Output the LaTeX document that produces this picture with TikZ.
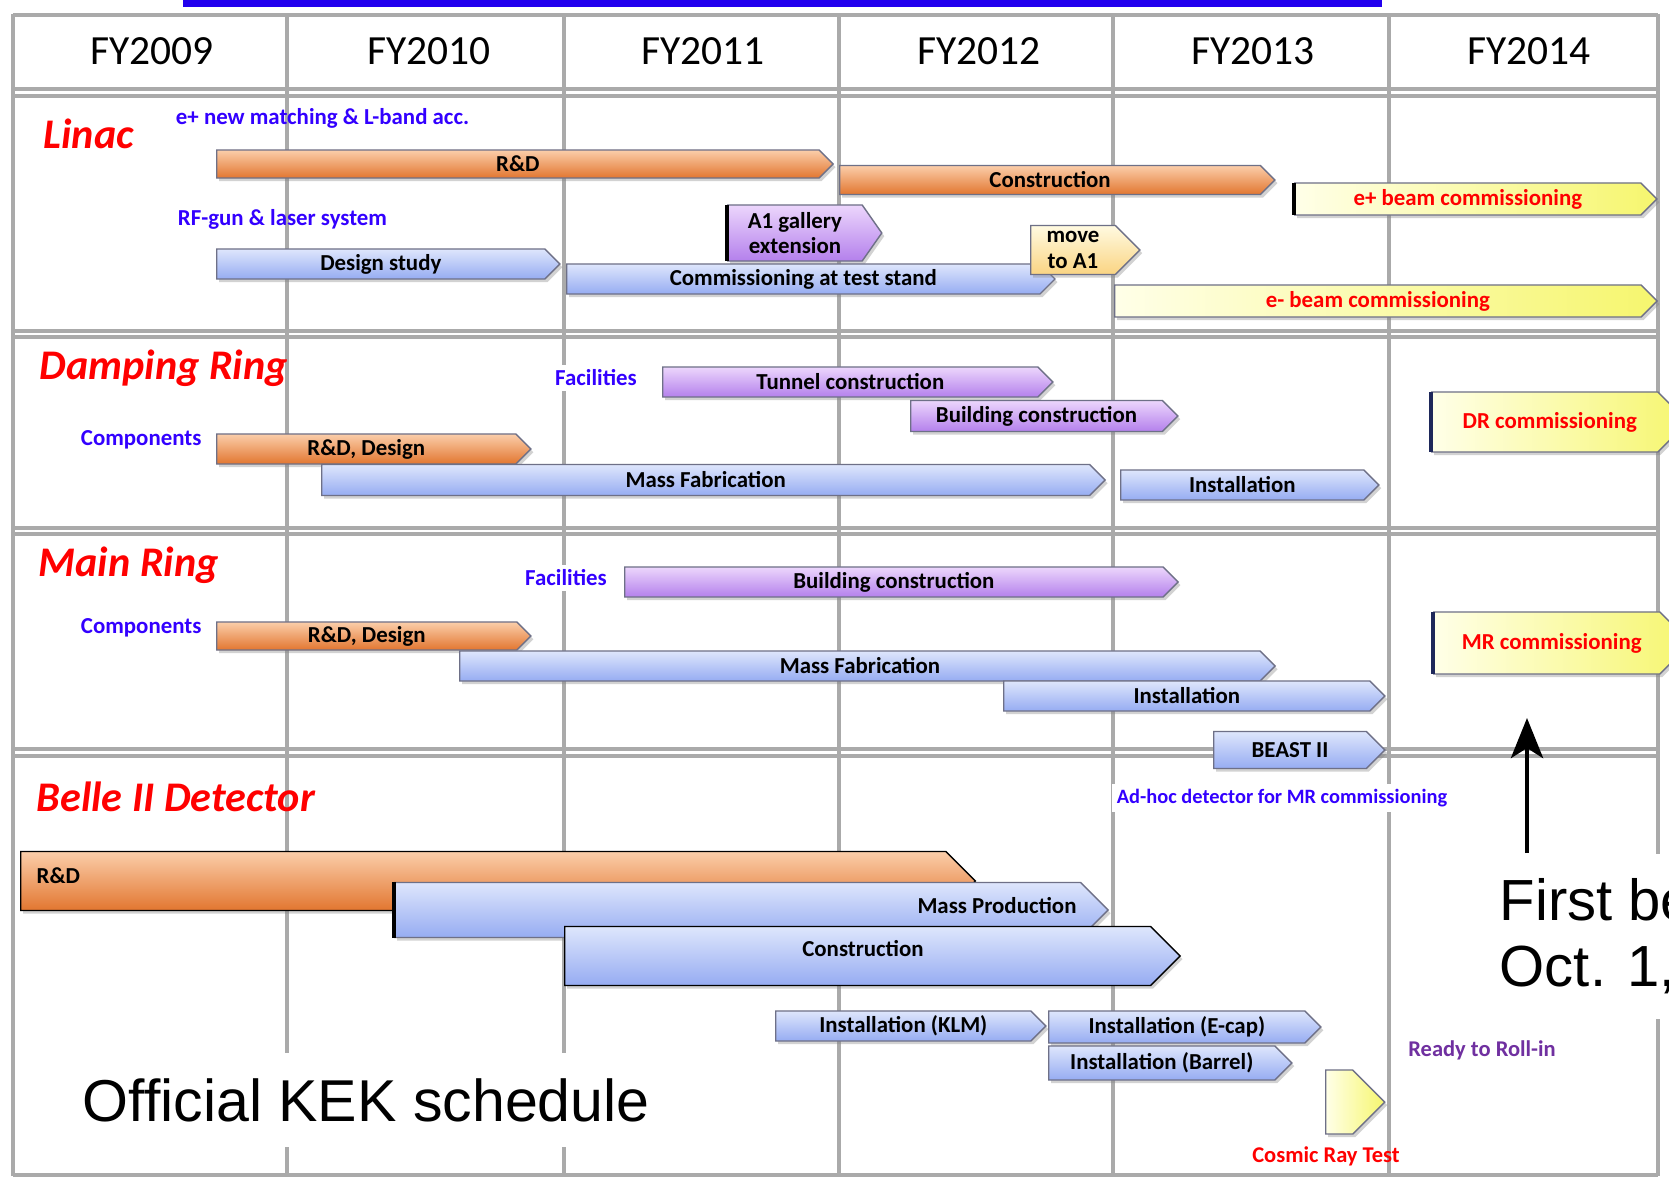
\documentclass[tikz,border=0pt]{standalone}
\usepackage{fontspec}
\setmainfont{Carlito}
\newfontfamily\arialfont{Liberation Sans}
\usetikzlibrary{shapes.symbols,shadows,arrows.meta}

\definecolor{gridgray}{RGB}{170,170,170}
\definecolor{headblue}{RGB}{34,0,238}
\definecolor{labblue}{RGB}{51,0,255}
\definecolor{titlered}{RGB}{255,0,0}
\definecolor{rollpurple}{RGB}{112,48,160}
\definecolor{orngtop}{RGB}{251,206,170}
\definecolor{orngbot}{RGB}{226,118,48}
\definecolor{bluetop}{RGB}{222,230,252}
\definecolor{bluebot}{RGB}{150,172,242}
\definecolor{purptop}{RGB}{236,214,252}
\definecolor{purpbot}{RGB}{180,128,236}
\definecolor{yelleft}{RGB}{255,255,232}
\definecolor{yelright}{RGB}{246,246,110}
\definecolor{peachtop}{RGB}{255,250,225}
\definecolor{peachbot}{RGB}{250,212,130}
\definecolor{barline}{RGB}{110,112,135}
\definecolor{edgenavy}{RGB}{30,40,90}

\tikzset{
  bar/.style={signal, signal to=east, signal from=nowhere, anchor=west,
    draw=barline, line width=0.4pt, inner sep=0pt, align=center,
    font=\bfseries\fontsize{6.5}{7.2}\selectfont,
    drop shadow={shadow xshift=0.7pt, shadow yshift=-0.9pt, opacity=0.35}},
  rdbar/.style={bar, top color=orngtop, bottom color=orngbot},
  bluebar/.style={bar, top color=bluetop, bottom color=bluebot},
  purpbar/.style={bar, top color=purptop, bottom color=purpbot},
  yelbar/.style={bar, left color=yelleft, right color=yelright, text=titlered},
  title/.style={anchor=west, inner sep=0pt, text=titlered, font=\bfseries\itshape\fontsize{12}{14}\selectfont},
  sublabel/.style={text=labblue, font=\bfseries\fontsize{6.5}{7.2}\selectfont, inner sep=1.5pt},
  bartext/.style={font=\bfseries\fontsize{6.5}{7.2}\selectfont, inner sep=0pt},
  gridline/.style={draw=gridgray, line width=1.1pt},
  edge/.style={line width=0.9pt},
}

\begin{document}
\begin{tikzpicture}[x=0.01cm, y=-0.01cm]
\clip (0,0) rectangle (1669,1179);
\fill[white] (0,0) rectangle (1669,1179);
\fill[headblue] (183,0) rectangle (1382,7);

% table
\foreach \gx in {13,287,564,839,1113,1389,1658}
  \draw[gridline] (\gx,14) -- (\gx,1176);
\foreach \gy in {15,89,96,331,337,528,534,749,756,1175}
  \draw[gridline] (13,\gy) -- (1658,\gy);
\foreach \yr/\xc in {2009/152,2010/429,2011/703,2012/979,2013/1253,2014/1529}
  \node[font=\fontsize{11.8}{13}\selectfont] (fy\yr) at (\xc,51) {FY\yr};

% Linac
\node[title] (linac) at (43,134) {Linac};
\node[sublabel, anchor=west] (lmatch) at (170,118) {e+ new matching \& L-band acc.};
\node[sublabel, anchor=west] (lgun) at (172,219) {RF-gun \& laser system};
\node[rdbar, minimum width=6.16cm, minimum height=0.28cm] (linrd) at (216,164) {R\&D};
\node[rdbar, minimum width=4.35cm, minimum height=0.29cm] (lincons) at (839,180) {Construction};
\node[yelbar, minimum width=3.62cm, minimum height=0.32cm] (epbeam) at (1294,199) {e+ beam commissioning};
\draw[edge] ([yshift=0.16cm]epbeam.west) -- ([yshift=-0.16cm]epbeam.west);
\node[bluebar, minimum width=3.43cm, minimum height=0.30cm] (design) at (216,264) {Design study};
\node[purpbar, signal pointer angle=110, minimum width=1.54cm, minimum height=0.56cm] (gallery) at (727,233) {A1 gallery\\extension};
\draw[edge] ([yshift=0.28cm]gallery.west) -- ([yshift=-0.28cm]gallery.west);
\node[bluebar, minimum width=4.88cm, minimum height=0.30cm] (stand) at (566,279) {Commissioning at test stand};
\node[bar, top color=peachtop, bottom color=peachbot, minimum width=1.09cm, minimum height=0.49cm] (movea) at (1030,250) {move\\to A1};
\node[yelbar, minimum width=5.42cm, minimum height=0.32cm] (embeam) at (1114,301) {e- beam commissioning};

% Damping Ring
\node[title] (dring) at (39,368) {Damping Ring};
\node[sublabel, fill=white] (dfac) at (596,378) {Facilities};
\node[purpbar, minimum width=3.90cm, minimum height=0.30cm] (dtunnel) at (662,382) {Tunnel construction};
\node[purpbar, minimum width=2.67cm, minimum height=0.31cm] (dbuild) at (910,416) {Building construction};
\node[yelbar, minimum width=2.56cm, minimum height=0.60cm] (drcom) at (1431,422) {\hspace{0.1cm}DR commissioning};
\draw[edge, edgenavy] ([yshift=0.30cm]drcom.west) -- ([yshift=-0.30cm]drcom.west);
\node[sublabel, anchor=west] (dcomp) at (75,440) {Components};
\node[rdbar, minimum width=3.14cm, minimum height=0.30cm] (drd) at (216,449) {R\&D, Design};
\node[bluebar, minimum width=7.83cm, minimum height=0.31cm] (dmass) at (321,480) {Mass Fabrication};
\node[bluebar, minimum width=2.58cm, minimum height=0.30cm] (dinst) at (1120,485) {Installation};

% Main Ring
\node[title] (mring) at (38,565) {Main Ring};
\node[sublabel, fill=white] (mfac) at (566,578) {Facilities};
\node[purpbar, minimum width=5.53cm, minimum height=0.30cm] (mbuild) at (624,582) {Building construction};
\node[sublabel, anchor=west] (mcomp) at (75,628) {Components};
\node[rdbar, minimum width=3.14cm, minimum height=0.28cm] (mrd) at (216,636) {R\&D, Design};
\node[bluebar, minimum width=8.15cm, minimum height=0.30cm] (mmass) at (459,666) {Mass Fabrication};
\node[bluebar, minimum width=3.81cm, minimum height=0.30cm] (minst) at (1003,696) {Installation};
\node[bluebar, minimum width=1.71cm, minimum height=0.37cm] (beast) at (1213,750) {BEAST II};
\node[yelbar, minimum width=2.57cm, minimum height=0.62cm] (mrcom) at (1433,643) {\hspace{0.1cm}MR commissioning};
\draw[edge, edgenavy] ([yshift=0.31cm]mrcom.west) -- ([yshift=-0.31cm]mrcom.west);

% Belle II
\node[title] (belle) at (36,797) {Belle II Detector};
\node[sublabel, fill=white, font=\bfseries\fontsize{5.8}{6.5}\selectfont] (adhoc) at (1282,798) {Ad-hoc detector for MR commissioning};
\node[rdbar, draw=black, minimum width=9.54cm, minimum height=0.59cm] (brd) at (20,881) {};
\node[bartext, anchor=west] (brdtxt) at (36,876) {R\&D};
\node[bluebar, minimum width=7.13cm, minimum height=0.55cm] (bmass) at (394,910) {};
\draw[edge] ([yshift=0.275cm]bmass.west) -- ([yshift=-0.275cm]bmass.west);
\node[bartext] (bmasstxt) at (997,906) {Mass Production};
\node[bluebar, draw=black, minimum width=6.15cm, minimum height=0.59cm] (bcons) at (564,956) {};
\node[bartext] (bconstxt) at (863,949) {Construction};
\node[bluebar, minimum width=2.70cm, minimum height=0.30cm] (bklm) at (775,1026) {Installation (KLM)};
\node[bluebar, minimum width=2.72cm, minimum height=0.32cm] (becap) at (1048,1027) {Installation (E-cap)};
\node[bluebar, minimum width=2.43cm, minimum height=0.34cm] (bbarrel) at (1048,1063) {Installation (Barrel)};
\node[yelbar, minimum width=0.59cm, minimum height=0.64cm] (cosmic) at (1325,1102) {};
\node[sublabel, text=titlered, font=\bfseries\fontsize{6.4}{7}\selectfont] (cosmictxt) at (1326,1156) {Cosmic Ray Test};
\node[sublabel, text=rollpurple, font=\bfseries\fontsize{6.4}{7}\selectfont] (rollin) at (1482,1050) {Ready to Roll-in};

% notes
\node[anchor=west, fill=white, inner xsep=0.1cm, inner ysep=0.25cm, font=\arialfont\fontsize{16.8}{19}\selectfont] (kek) at (72,1100) {Official KEK schedule};
\node[anchor=north west, fill=white, inner xsep=0pt, inner ysep=0.25cm, align=left, font=\arialfont\fontsize{16.5}{18.8}\selectfont] (firstbeam) at (1499,853) {First be\\Oct. 1,};
\coordinate (beamfoot) at (1527,853);
\coordinate (beamtip) at (1527,718);
\draw[line width=1.4pt, -{Stealth[length=0.4cm, width=0.32cm, inset=0.1cm]}] (beamfoot) -- (beamtip);
\end{tikzpicture}
\end{document}
